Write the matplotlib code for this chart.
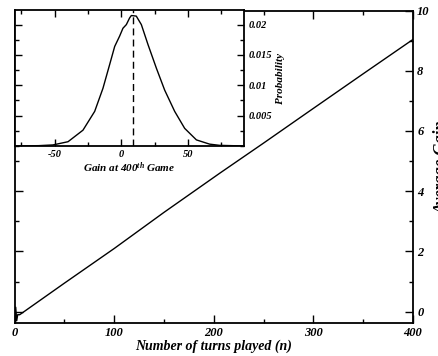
import matplotlib
matplotlib.use("Agg")
import matplotlib.pyplot as plt
from matplotlib.ticker import MultipleLocator

plt.rcParams['font.family'] = 'Liberation Serif'
plt.rcParams['font.weight'] = 'bold'
plt.rcParams['font.style'] = 'italic'
plt.rcParams['axes.labelweight'] = 'bold'
plt.rcParams['axes.unicode_minus'] = False
plt.rcParams['mathtext.fontset'] = 'custom'
plt.rcParams['mathtext.it'] = 'Liberation Serif:italic:bold'
plt.rcParams['mathtext.rm'] = 'Liberation Serif:italic:bold'

# average gain vs number of turns
turns = [0, 1, 2, 3, 5, 50, 100, 150, 206, 250, 296, 350, 400]
avg_gain = [-0.2, 0.15, -0.3, -0.1, -0.1, 0.95, 2.1, 3.3, 4.6, 5.6, 6.66, 7.9, 9.04]

# distribution of gain at the 400th game (inset)
gain = [-80, -62, -51.3, -40, -28.8, -20, -13.8, -8.8, -5, -1.3, 1.2, 3.75, 6.2, 7.5,
        11.2, 15, 20, 26.3, 32.5, 40, 47.5, 56.3, 66.2, 73.7, 92]
prob = [0, 0.00005, 0.00017, 0.0007, 0.0026, 0.0057, 0.0095, 0.0134, 0.0164, 0.0181,
        0.0194, 0.0200, 0.0211, 0.0215, 0.0214, 0.0200, 0.0167, 0.0128, 0.0092, 0.0057,
        0.0029, 0.0010, 0.0003, 0.0001, 0]
mean_gain = 9

fig = plt.figure(figsize=(4.39, 3.56), dpi=100)

ax = fig.add_axes([0.0335, 0.0927, 0.9073, 0.8778])
ax.plot(turns, avg_gain, color='black', lw=1.0)
ax.set_xlim(0, 400)
ax.set_ylim(-0.375, 10)
ax.xaxis.set_major_locator(MultipleLocator(100))
ax.xaxis.set_minor_locator(MultipleLocator(50))
ax.yaxis.set_major_locator(MultipleLocator(2))
ax.yaxis.set_minor_locator(MultipleLocator(1))
ax.tick_params(which='both', direction='in', top=True, bottom=True, left=True, right=True,
               labelleft=False, labelright=True, labelsize=9, width=1.0, pad=3)
ax.tick_params(which='major', length=6)
ax.tick_params(which='minor', length=3)
ax.yaxis.set_label_position('right')
ax.set_xlabel('Number of turns played (n)', fontsize=10, fontweight='bold',
              fontstyle='italic', labelpad=0)
ax.set_ylabel('Average Gain', fontsize=12, fontweight='bold', fontstyle='italic')
ax.yaxis.set_label_coords(1.052, 0.5)
for s in ax.spines.values():
    s.set_linewidth(1.3)

ins = fig.add_axes([0.0335, 0.59, 0.5223, 0.3806])
ins.plot(gain, prob, color='black', lw=1.0)
ins.axvline(mean_gain, color='black', lw=1.0, ls=(0, (5, 3)))
ins.set_xlim(-80, 92)
ins.set_ylim(0, 0.02233)
ins.xaxis.set_major_locator(MultipleLocator(50))
ins.xaxis.set_minor_locator(MultipleLocator(25))
ins.yaxis.set_minor_locator(MultipleLocator(0.0025))
ins.tick_params(which='both', direction='in', top=True, bottom=True, left=True, right=True,
                labelleft=False, labelright=True, labelsize=7.5, width=1.0, pad=3)
ins.tick_params(which='major', length=5)
ins.tick_params(which='minor', length=3)
ins.set_yticks([0.005, 0.01, 0.015, 0.02])
ins.set_yticklabels(['0.005', '0.01', '0.015', '0.02'])
ins.yaxis.set_label_position('right')
ins.set_xlabel('Gain at 400$^{th}$ Game', fontsize=8, fontweight='bold',
               fontstyle='italic', labelpad=1)
ins.set_ylabel('Probability', fontsize=8, fontweight='bold', fontstyle='italic', labelpad=3)
for s in ins.spines.values():
    s.set_linewidth(1.3)

fig.savefig('out.png', dpi=100)
